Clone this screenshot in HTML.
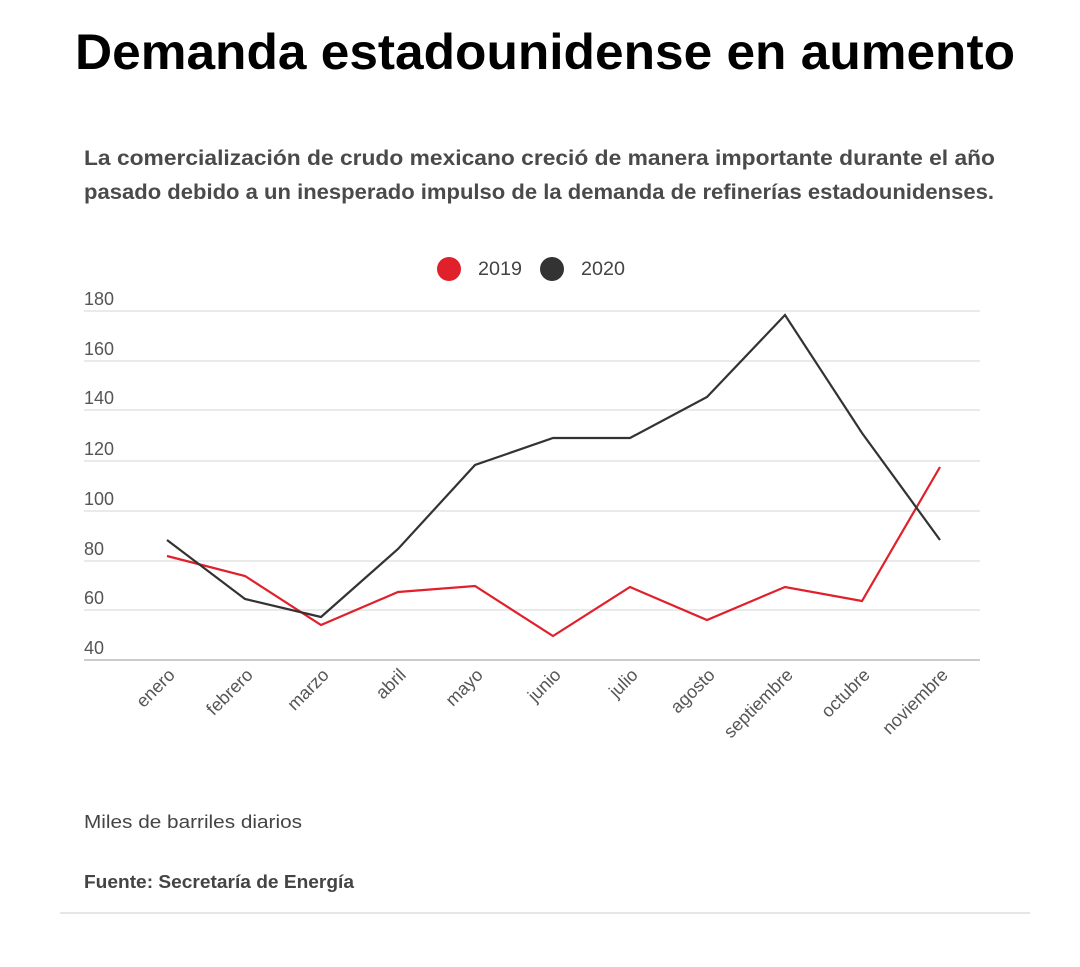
<!DOCTYPE html>
<html><head><meta charset="utf-8"><style>
body{margin:0;width:1080px;height:962px;background:#fff;overflow:hidden;font-family:"Liberation Sans",sans-serif}
</style></head><body>
<svg width="1080" height="962" xmlns="http://www.w3.org/2000/svg" font-family="Liberation Sans, sans-serif">
<text x="75" y="69" font-size="50" font-weight="bold" fill="#000" textLength="940" lengthAdjust="spacingAndGlyphs">Demanda estadounidense en aumento</text>
<text x="84" y="165" font-size="21" font-weight="bold" fill="#4a4a4a" textLength="911" lengthAdjust="spacingAndGlyphs" style="font-weight:600">La comercialización de crudo mexicano creció de manera importante durante el año</text>
<text x="84" y="199" font-size="21" font-weight="bold" fill="#4a4a4a" textLength="910" lengthAdjust="spacingAndGlyphs">pasado debido a un inesperado impulso de la demanda de refinerías estadounidenses.</text>
<circle cx="449" cy="269" r="12" fill="#e0202a"/>
<text x="478" y="275" font-size="19" fill="#444" textLength="44" lengthAdjust="spacingAndGlyphs">2019</text>
<circle cx="552" cy="269" r="12" fill="#333"/>
<text x="581" y="275" font-size="19" fill="#444" textLength="44" lengthAdjust="spacingAndGlyphs">2020</text>
<g stroke="#ddd" stroke-width="1.2">
<line x1="84" x2="980" y1="311" y2="311"/><line x1="84" x2="980" y1="361" y2="361"/>
<line x1="84" x2="980" y1="410" y2="410"/><line x1="84" x2="980" y1="461" y2="461"/>
<line x1="84" x2="980" y1="511" y2="511"/><line x1="84" x2="980" y1="561" y2="561"/>
<line x1="84" x2="980" y1="610" y2="610"/></g>
<line x1="84" x2="980" y1="660" y2="660" stroke="#ccc" stroke-width="2"/>
<g font-size="18" fill="#555">
<text x="84" y="305">180</text><text x="84" y="355">160</text><text x="84" y="404">140</text>
<text x="84" y="455">120</text><text x="84" y="505">100</text><text x="84" y="555">80</text>
<text x="84" y="604">60</text><text x="84" y="654">40</text></g>
<polyline fill="none" stroke="#e0202a" stroke-width="2.2" points="167,556 245,576 321,625 398,592 475,586 553,636 630,587 707,620 785,587 862,601 940,467"/>
<polyline fill="none" stroke="#333" stroke-width="2.2" points="167,540 245,599 321,617 398,549 475,465 553,438 630,438 707,397 785,315 862,433 940,540"/>
<g font-size="18" fill="#555" text-anchor="end">
<text transform="translate(176,676) rotate(-45)">enero</text>
<text transform="translate(254,676) rotate(-45)">febrero</text>
<text transform="translate(330,676) rotate(-45)">marzo</text>
<text transform="translate(407,676) rotate(-45)">abril</text>
<text transform="translate(484,676) rotate(-45)">mayo</text>
<text transform="translate(562,676) rotate(-45)">junio</text>
<text transform="translate(639,676) rotate(-45)">julio</text>
<text transform="translate(716,676) rotate(-45)">agosto</text>
<text transform="translate(794,676) rotate(-45)">septiembre</text>
<text transform="translate(871,676) rotate(-45)">octubre</text>
<text transform="translate(949,676) rotate(-45)">noviembre</text></g>
<text x="84" y="828" font-size="18" fill="#444" textLength="218" lengthAdjust="spacingAndGlyphs">Miles de barriles diarios</text>
<text x="84" y="888" font-size="18" font-weight="bold" fill="#444" textLength="270" lengthAdjust="spacingAndGlyphs">Fuente: Secretaría de Energía</text>
<line x1="60" x2="1030" y1="913" y2="913" stroke="#ddd" stroke-width="1.5"/>
</svg>
</body></html>
